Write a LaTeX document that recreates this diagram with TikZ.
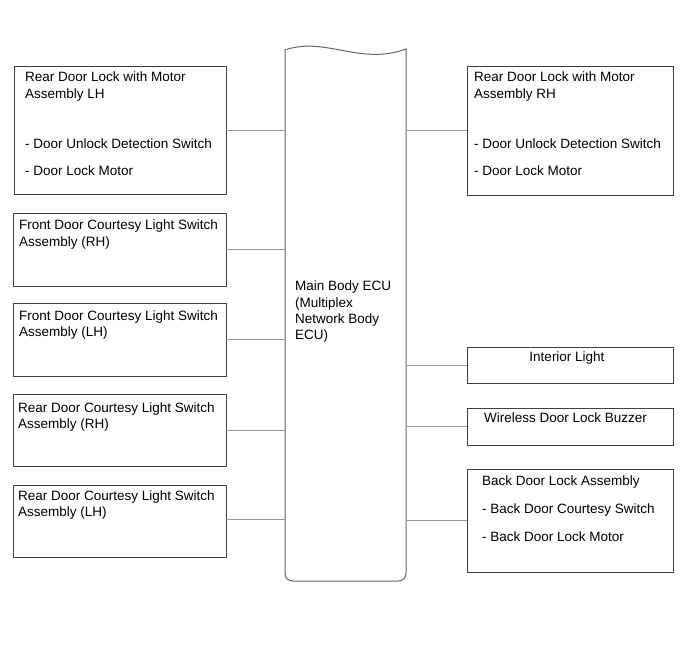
\documentclass[tikz,border=0pt]{standalone}
\usepackage{fontspec}
\setmainfont{Liberation Sans}
\begin{document}
\begin{tikzpicture}[x=1pt,y=-1pt,
  box/.style={draw=black!75,line width=0.9pt,rectangle,inner sep=0pt},
  conn/.style={draw=black!40,line width=0.9pt},
  eculine/.style={draw=black!60,line width=1pt},
  lbl/.style={anchor=base west,inner sep=0pt,font=\fontsize{13.5}{16}\selectfont},
  lblc/.style={anchor=base,inner sep=0pt,font=\fontsize{13.5}{16}\selectfont}]
\useasboundingbox (0,0) rectangle (689,659);
% boxes
\node[box,minimum width=212pt,minimum height=128pt] (l1) at (120,130) {};
\node[box,minimum width=213pt,minimum height=73pt] (l2) at (119.5,249.5) {};
\node[box,minimum width=213pt,minimum height=73pt] (l3) at (119.5,339.5) {};
\node[box,minimum width=213pt,minimum height=72pt] (l4) at (119.5,430) {};
\node[box,minimum width=213pt,minimum height=72pt] (l5) at (119.5,521) {};
\node[box,minimum width=206pt,minimum height=129pt] (r1) at (570,130.5) {};
\node[box,minimum width=206pt,minimum height=36pt] (r2) at (570,365) {};
\node[box,minimum width=206pt,minimum height=37pt] (r3) at (570,426.5) {};
\node[box,minimum width=206pt,minimum height=103pt] (r4) at (570,520.5) {};
% ECU
\node[minimum width=121pt,minimum height=531pt,inner sep=0pt] (ecu) at (345.5,315.5) {};
\draw[eculine] (285,50) .. controls (325,36) and (360,66) .. (406,49)
  -- (406,573) .. controls (406,578) and (403,581) .. (398,581)
  -- (293,581) .. controls (288,581) and (285,578) .. (285,573) -- cycle;
% connectors
\draw[conn] (l1.east) -- (l1.east -| ecu.west);
\draw[conn] (l2.east) -- (l2.east -| ecu.west);
\draw[conn] (l3.east) -- (l3.east -| ecu.west);
\draw[conn] (l4.east) -- (l4.east -| ecu.west);
\draw[conn] ([yshift=2pt]l5.east) -- ([yshift=2pt]l5.east -| ecu.west);
\draw[conn] (r1.west) -- (r1.west -| ecu.east);
\draw[conn] (r2.west) -- (r2.west -| ecu.east);
\draw[conn] (r3.west) -- (r3.west -| ecu.east);
\draw[conn] (r4.west) -- (r4.west -| ecu.east);
% texts
\node[lbl] (t11) at (25,81) {Rear Door Lock with Motor};
\node[lbl] (t12) at (25,98) {Assembly LH};
\node[lbl] (t13) at (25,148) {- Door Unlock Detection Switch};
\node[lbl] (t14) at (25,175) {- Door Lock Motor};
\node[lbl] (t21) at (19,229) {Front Door Courtesy Light Switch};
\node[lbl] (t22) at (19,246) {Assembly (RH)};
\node[lbl] (t31) at (19,320) {Front Door Courtesy Light Switch};
\node[lbl] (t32) at (19,336) {Assembly (LH)};
\node[lbl] (t41) at (18,412) {Rear Door Courtesy Light Switch};
\node[lbl] (t42) at (18,428) {Assembly (RH)};
\node[lbl] (t51) at (18,500) {Rear Door Courtesy Light Switch};
\node[lbl] (t52) at (18,516) {Assembly (LH)};
\node[lbl] (e1) at (295,290) {Main Body ECU};
\node[lbl] (e2) at (295,307) {(Multiplex};
\node[lbl] (e3) at (295,323) {Network Body};
\node[lbl] (e4) at (295,339) {ECU)};
\node[lbl] (s11) at (474,81) {Rear Door Lock with Motor};
\node[lbl] (s12) at (474,98) {Assembly RH};
\node[lbl] (s13) at (474,148) {- Door Unlock Detection Switch};
\node[lbl] (s14) at (474,175) {- Door Lock Motor};
\node[lblc] (s2) at (567,361) {Interior Light};
\node[lbl] (s3) at (484,422) {Wireless Door Lock Buzzer};
\node[lbl] (s41) at (482,485) {Back Door Lock Assembly};
\node[lbl] (s42) at (482,513) {- Back Door Courtesy Switch};
\node[lbl] (s43) at (482,541) {- Back Door Lock Motor};
\end{tikzpicture}
\end{document}
